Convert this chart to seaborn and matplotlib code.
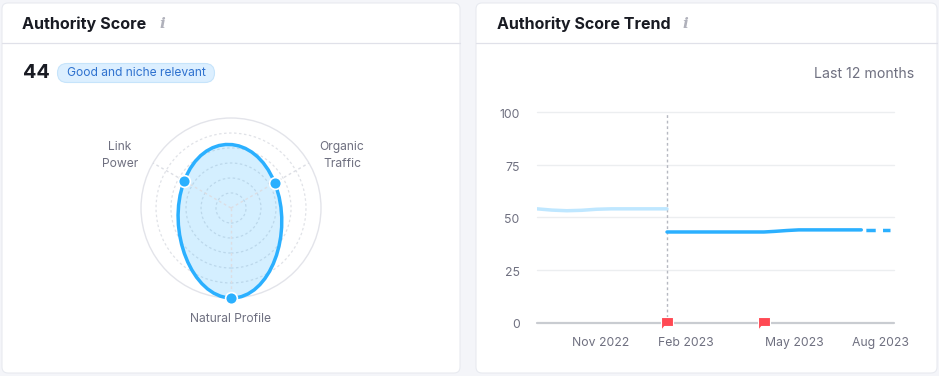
import numpy as np
import pandas as pd
import seaborn as sns
import matplotlib.pyplot as plt
from matplotlib.patches import Circle, FancyBboxPatch, PathPatch
from matplotlib.path import Path
from matplotlib.transforms import ScaledTranslation

# radar values
radar_labels = ["Organic\nTraffic", "Link\nPower", "Natural Profile"]
radar_angles = [30, 150, 270]
radar_values = [56, 60, 100]
radar_rings = [16.7, 33.3, 50, 66.7, 83.3]

# trend values, x is in months from the left edge of the plot
past_x = [0, 0.5, 1, 1.5, 2, 2.5, 3, 4.37]
past_y = [54, 53.4, 53.1, 53.3, 53.8, 54, 54, 54]
now_x = [4.37, 6, 7.63, 8, 8.4, 8.8, 10.9]
now_y = [43, 43, 43, 43.3, 43.7, 44, 44]
forecast_x = [10.9, 11.87]
forecast_y = [44, 44]
flag_x = [4.37, 7.63]
flag_y = [0, 0]
y_ticks = [0, 25, 50, 75, 100]
x_ticks = [2.15, 5.0, 8.66, 11.55]
x_tick_labels = ["Nov 2022", "Feb 2023", "May 2023", "Aug 2023"]

W, H = 939, 376
BLUE = "#2bb0ff"
GREY = "#6f7080"

sns.set_theme(style="white")
plt.rcParams["font.family"] = ["Inter", "Roboto", "DejaVu Sans"]

fig = plt.figure(figsize=(W / 100, H / 100), dpi=100, facecolor="#f4f5f9")


def px_axes(left, top, right, bottom, **kw):
    return fig.add_axes([left / W, 1 - bottom / H, (right - left) / W, (bottom - top) / H], **kw)


# page layer, in pixels
bg = px_axes(0, 0, W, H)
bg.set_xlim(0, W)
bg.set_ylim(H, 0)
bg.axis("off")
for x0, x1 in [(2, 460), (476, 937)]:
    bg.add_patch(FancyBboxPatch((x0 + 6, 9), x1 - x0 - 12, 358, boxstyle="round,pad=6",
                                fc="white", ec="#e8eaf0", lw=0.8))
    bg.plot([x0, x1], [42.5, 42.5], color="#e0e1e9", lw=0.9)

bg.text(22, 24, "Authority Score", fontsize=11.6, fontweight="bold", color="#191b23", va="center")
bg.text(497, 24, "Authority Score Trend", fontsize=11.5, fontweight="bold", color="#191b23", va="center")
for x in [162, 685]:
    bg.text(x, 23.5, "i", fontsize=11, color="#b0b1bb", family="DejaVu Serif", style="italic",
            fontweight="bold", ha="center", va="center")
bg.text(22.5, 73.5, "44", fontsize=14.3, fontweight="bold", color="#191b23", va="center")
bg.add_patch(FancyBboxPatch((57.5, 63.5), 157, 19, boxstyle="round,pad=0,rounding_size=9.5",
                            fc="#dcefff", ec="#c6e4fb", lw=0.8))
bg.text(136.5, 73.5, "Good and niche relevant", fontsize=8.7, color="#2f72cf", ha="center", va="center")
bg.text(914, 73.5, "Last 12 months", fontsize=10.2, color=GREY, ha="right", va="center")

# radar, drawn on an equal cartesian axes
ax = px_axes(131, 108, 331, 308)
scale = 100 / 90
ax.set_xlim(-100 * scale, 100 * scale)
ax.set_ylim(-100 * scale, 100 * scale)
ax.axis("off")
ax.add_patch(Circle((0, 0), 100, fc="none", ec="#e3e4ea", lw=1))
for r in radar_rings:
    ax.add_patch(Circle((0, 0), r, fc="none", ec="#e0e2e7", lw=0.9, ls=(0, (2, 2))))

rad = np.deg2rad(radar_angles)
dirs = np.column_stack([np.cos(rad), np.sin(rad)])
for d in dirs:
    ax.plot([0, d[0] * 100], [0, d[1] * 100], color="#dcdee4", lw=1, ls=(0, (2, 2)))

pts = dirs * np.array(radar_values)[:, None]
verts, codes = [pts[0]], [Path.MOVETO]
k = 0.43
n = len(pts)
for i in range(n):
    p0, p1 = pts[i], pts[(i + 1) % n]
    t0 = k * (pts[(i + 1) % n] - pts[i - 1])
    t1 = k * (pts[(i + 2) % n] - pts[i])
    verts += [p0 + t0, p1 - t1, p1]
    codes += [Path.CURVE4] * 3
shape = Path(verts, codes)
ax.add_patch(PathPatch(shape, fc=BLUE, alpha=0.2, ec="none"))
ax.add_patch(PathPatch(shape, fc="none", ec=BLUE, lw=2.5))
sns.scatterplot(x=pts[:, 0], y=pts[:, 1], ax=ax, s=72, color=BLUE, edgecolor="white", linewidth=1.2,
                clip_on=False, zorder=5)

for label, x, y in zip(radar_labels, [342, 120, 231], [155.5, 155.5, 319.5]):
    bg.text(x, y, label, fontsize=8.7, color=GREY, ha="center", va="center", linespacing=1.45)

# trend
tr = px_axes(537, 112, 894, 322.5)
tr.patch.set_alpha(0)
past = pd.DataFrame({"x": past_x, "y": past_y})
now = pd.DataFrame({"x": now_x, "y": now_y})
forecast = pd.DataFrame({"x": forecast_x, "y": forecast_y})

tr.set_xlim(0, 12)
tr.set_ylim(0, 100)
tr.set_yticks(y_ticks)
tr.set_xticks(x_ticks, x_tick_labels)
tr.tick_params(length=0, labelsize=8.8, labelcolor=GREY)
tr.tick_params(axis="x", pad=10.5)
tr.tick_params(axis="y", pad=12.5)
sns.despine(ax=tr, left=True, bottom=True, top=True, right=True)
for v in y_ticks:
    if v == 0:
        tr.axhline(v, color="#c9ccd1", lw=1.6, clip_on=False, zorder=1)
    else:
        tr.axhline(v, color="#eceef0", lw=1.0, clip_on=False, zorder=1)
tr.axvline(flag_x[0], color="#b6b8c1", lw=1, ls=(0, (2, 2)), zorder=1)

sns.lineplot(data=past, x="x", y="y", ax=tr, color="#bfe7ff", lw=2.5, zorder=3)
sns.lineplot(data=now, x="x", y="y", ax=tr, color=BLUE, lw=2.5, zorder=3)
sns.lineplot(data=forecast, x="x", y="y", ax=tr, color=BLUE, lw=2.5, zorder=3,
             linestyle=(3.4, (2.7, 2.1)))
tr.set_xlabel("")
tr.set_ylabel("")

# y labels sit a little lower than the gridlines
nudge = ScaledTranslation(0, -1.5 / 100, fig.dpi_scale_trans)
for lab in tr.get_yticklabels():
    lab.set_transform(lab.get_transform() + nudge)

flag = Path([(-1, -1.1), (-1, 1), (1, 1), (1, -0.5), (-0.45, -0.5), (-1, -1.1)], closed=True)
sns.scatterplot(x=flag_x, y=flag_y, ax=tr, marker=flag, s=105, color="#ff4953", edgecolor="white",
                linewidth=0.8, clip_on=False, zorder=6)

fig.savefig("out.png", dpi=100, facecolor=fig.get_facecolor())
